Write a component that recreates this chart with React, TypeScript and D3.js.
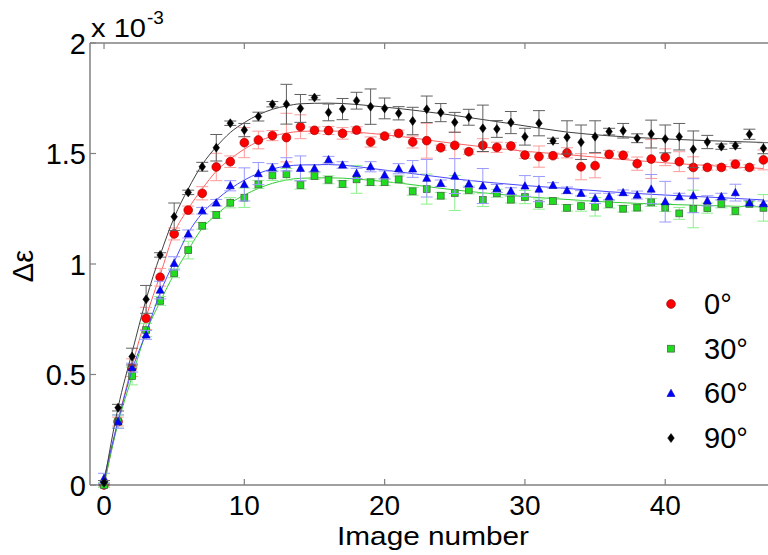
import React from "react";
import * as d3 from "d3";

const IMAGES = [0,1,2,3,4,5,6,7,8,9,10,11,12,13,14,15,16,17,18,19,20,21,22,23,24,25,26,27,28,29,30,31,32,33,34,35,36,37,38,39,40,41,42,43,44,45,46,47];

const RED = [0,0.287,0.531,0.754,0.94,1.136,1.244,1.32,1.439,1.463,1.549,1.561,1.581,1.572,1.621,1.605,1.604,1.591,1.606,1.552,1.579,1.591,1.552,1.558,1.526,1.537,1.508,1.537,1.528,1.534,1.493,1.486,1.49,1.503,1.44,1.445,1.496,1.492,1.454,1.475,1.483,1.463,1.437,1.437,1.437,1.452,1.437,1.471];
const RED_ERR = [0.01,0.02,0.04,0.05,0.04,0.027,0.018,0.03,0.062,0.026,0.068,0.04,0.023,0.11,0.054,0.015,0.018,0.026,0.015,0.023,0.012,0.015,0.027,0.079,0.012,0.06,0.012,0.03,0.023,0.015,0.015,0.048,0.012,0.023,0.059,0.055,0.018,0.015,0.03,0.088,0.038,0.045,0.048,0.012,0.012,0.018,0.012,0.045];

const GREEN = [0,0.287,0.493,0.701,0.833,0.958,1.063,1.173,1.222,1.277,1.3,1.36,1.401,1.406,1.357,1.398,1.381,1.362,1.383,1.37,1.37,1.383,1.329,1.339,1.309,1.321,1.335,1.29,1.32,1.291,1.303,1.271,1.285,1.254,1.262,1.259,1.271,1.25,1.255,1.279,1.255,1.229,1.249,1.253,1.272,1.24,1.272,1.254];
const GREEN_ERR = [0.01,0.03,0.04,0.03,0.02,0.02,0.04,0.015,0.015,0.023,0.044,0.018,0.023,0.026,0.018,0.015,0.018,0.015,0.063,0.015,0.015,0.015,0.018,0.068,0.015,0.079,0.018,0.03,0.018,0.015,0.03,0.023,0.015,0.015,0.023,0.042,0.018,0.015,0.015,0.018,0.018,0.027,0.085,0.023,0.018,0.018,0.012,0.06];

const BLUE = [0.03,0.287,0.531,0.679,0.882,1.003,1.136,1.241,1.277,1.354,1.36,1.409,1.436,1.451,1.433,1.433,1.472,1.448,1.41,1.44,1.403,1.431,1.43,1.388,1.365,1.398,1.362,1.353,1.342,1.33,1.353,1.339,1.356,1.333,1.32,1.297,1.305,1.323,1.312,1.339,1.282,1.305,1.309,1.286,1.305,1.323,1.276,1.273];
const BLUE_ERR = [0.023,0.03,0.02,0.02,0.04,0.03,0.018,0.015,0.015,0.023,0.075,0.05,0.018,0.03,0.056,0.015,0.015,0.015,0.023,0.023,0.018,0.023,0.038,0.085,0.015,0.079,0.015,0.079,0.018,0.015,0.047,0.057,0.012,0.015,0.012,0.023,0.015,0.012,0.018,0.066,0.092,0.015,0.077,0.023,0.015,0.038,0.012,0.012];

const BLACK = [0.01,0.35,0.581,0.84,1.041,1.214,1.324,1.44,1.526,1.637,1.606,1.667,1.723,1.723,1.704,1.753,1.686,1.701,1.739,1.712,1.704,1.682,1.647,1.7,1.685,1.641,1.664,1.614,1.611,1.64,1.576,1.637,1.557,1.573,1.551,1.576,1.599,1.603,1.569,1.588,1.566,1.576,1.519,1.552,1.531,1.535,1.587,1.524];
const BLACK_ERR = [0.01,0.015,0.038,0.063,0.01,0.062,0.01,0.02,0.06,0.01,0.03,0.02,0.012,0.09,0.063,0.01,0.038,0.048,0.038,0.08,0.047,0.03,0.062,0.06,0.041,0.045,0.036,0.105,0.038,0.05,0.038,0.057,0.012,0.075,0.078,0.072,0.015,0.033,0.02,0.063,0.063,0.06,0.083,0.03,0.012,0.012,0.023,0.025];

const FIT_X = [0,1,2,3,4,5,6,7,8,9,10,11,12,13,14,16,20,25,30,33,36,40,44,47];
const RED_FIT = [0,0.29,0.54,0.76,0.95,1.14,1.25,1.34,1.42,1.475,1.52,1.555,1.578,1.592,1.6,1.602,1.585,1.545,1.51,1.495,1.478,1.458,1.442,1.432];
const GREEN_FIT = [0,0.28,0.49,0.69,0.83,0.955,1.063,1.162,1.222,1.275,1.312,1.342,1.365,1.38,1.388,1.39,1.373,1.335,1.305,1.292,1.28,1.27,1.263,1.258];
const BLUE_FIT = [0.03,0.29,0.52,0.69,0.87,1.01,1.14,1.23,1.29,1.34,1.38,1.41,1.43,1.443,1.448,1.45,1.425,1.385,1.355,1.342,1.327,1.312,1.3,1.29];
const BLACK_FIT = [0.01,0.35,0.6,0.84,1.04,1.21,1.34,1.45,1.53,1.595,1.64,1.675,1.7,1.715,1.725,1.728,1.71,1.672,1.625,1.597,1.58,1.566,1.556,1.55];

const X_TICKS = [0, 10, 20, 30, 40];
const Y_TICKS = [0, 0.5, 1, 1.5, 2];
const Y_TICK_LABELS = ["0", "0.5", "1", "1.5", "2"];
const LEGEND_LABELS = ["0°", "30°", "60°", "90°"];

const FONT = "'Liberation Sans', Arial, Helvetica, sans-serif";

type Series = {
  label: string;
  values: number[];
  errs: number[];
  fit: number[];
  marker: string;
  fill: string;
  stroke: string;
  errColor: string;
  lineColor: string;
};

const SERIES: Series[] = [
  { label: LEGEND_LABELS[0], values: RED, errs: RED_ERR, fit: RED_FIT, marker: "circle", fill: "#ff0000", stroke: "#8a0000", errColor: "#ff9a9a", lineColor: "#ff6060" },
  { label: LEGEND_LABELS[1], values: GREEN, errs: GREEN_ERR, fit: GREEN_FIT, marker: "square", fill: "#1fdc1f", stroke: "#4a6a4a", errColor: "#8cf08c", lineColor: "#33cc33" },
  { label: LEGEND_LABELS[2], values: BLUE, errs: BLUE_ERR, fit: BLUE_FIT, marker: "triangle", fill: "#0000ff", stroke: "#0000b0", errColor: "#9a9aff", lineColor: "#4848ff" },
  { label: LEGEND_LABELS[3], values: BLACK, errs: BLACK_ERR, fit: BLACK_FIT, marker: "diamond", fill: "#000000", stroke: "#000000", errColor: "#606060", lineColor: "#404040" },
];

function Marker({ kind, x, y, fill, stroke }: { kind: string; x: number; y: number; fill: string; stroke: string }) {
  if (kind === "circle") return <circle cx={x} cy={y} r={4.4} fill={fill} stroke={stroke} strokeWidth={0.6} />;
  if (kind === "square") return <rect x={x - 3.4} y={y - 3.4} width={6.8} height={6.8} fill={fill} stroke={stroke} strokeWidth={0.8} />;
  if (kind === "triangle")
    return <path d={`M${x},${y - 4.2} L${x + 4},${y + 3.1} L${x - 4},${y + 3.1} Z`} fill={fill} stroke={stroke} strokeWidth={0.6} />;
  return <path d={`M${x},${y - 4.5} L${x + 3.3},${y} L${x},${y + 4.5} L${x - 3.3},${y} Z`} fill={fill} stroke={stroke} strokeWidth={0.5} />;
}

export default function App() {
  const W = 768, H = 555;
  const left = 90, top = 43, bottom = 485;
  const x = d3.scaleLinear().domain([-1, 50]).range([left, left + 14.03 * 51]);
  const y = d3.scaleLinear().domain([0, 2]).range([bottom, top]);
  const right = x(50);
  const axisColor = "#808080";
  const tickLen = 6;
  const capHalf = 6;

  return (
    <div style={{ position: "fixed", left: 0, top: 0 }}>
      <svg width={W} height={H} style={{ display: "block", background: "#fff" }}>
        <defs>
          <clipPath id="plotClip">
            <rect x={left} y={0} width={right - left} height={bottom + 10} />
          </clipPath>
        </defs>
        <line x1={left} x2={right} y1={top} y2={top} stroke={axisColor} strokeWidth={1.5} />
        <line x1={left} x2={right} y1={bottom} y2={bottom} stroke={axisColor} strokeWidth={1.5} />
        <line x1={left} x2={left} y1={top} y2={bottom} stroke={axisColor} strokeWidth={1.5} />
        {X_TICKS.map((t) => (
          <g key={"xt" + t}>
            <line x1={x(t)} x2={x(t)} y1={bottom} y2={bottom - tickLen} stroke={axisColor} strokeWidth={1.2} />
            <line x1={x(t)} x2={x(t)} y1={top} y2={top + tickLen} stroke={axisColor} strokeWidth={1.2} />
            <text x={x(t)} y={515} textAnchor="middle" fontFamily={FONT} fontSize={28} fill="#000">
              {t}
            </text>
          </g>
        ))}
        {Y_TICKS.map((t, i) => (
          <g key={"yt" + t}>
            <line x1={left} x2={left + tickLen} y1={y(t)} y2={y(t)} stroke={axisColor} strokeWidth={1.2} />
            <text x={86} y={y(t) + 10.5} textAnchor="end" fontFamily={FONT} fontSize={29} fill="#000">
              {Y_TICK_LABELS[i]}
            </text>
          </g>
        ))}
        <text x={91} y={37} fontFamily={FONT} fontSize={26} fill="#000" textLength={55} lengthAdjust="spacingAndGlyphs">
          x 10
        </text>
        <text x={147} y={24} fontFamily={FONT} fontSize={19} fill="#000">
          -3
        </text>
        <text x={433} y={545} textAnchor="middle" fontFamily={FONT} fontSize={26} fill="#000" textLength={192} lengthAdjust="spacingAndGlyphs">
          Image number
        </text>
        <text transform="translate(33,266) rotate(-90)" textAnchor="middle" fontFamily={FONT} fontSize={29} fill="#000">
          Δε
        </text>

        <g clipPath="url(#plotClip)">
          {SERIES.map((s) => {
            const fitLine = d3
              .line<number>()
              .x((_, i) => x(FIT_X[i]))
              .y((d) => y(d))
              .curve(d3.curveMonotoneX);
            return (
              <g key={s.label}>
                <path d={fitLine(s.fit) || ""} fill="none" stroke={s.lineColor} strokeWidth={1} />
                {s.values.map((v, i) => {
                  const cx = x(IMAGES[i]);
                  const y1 = y(v + s.errs[i]);
                  const y2 = y(v - s.errs[i]);
                  return (
                    <g key={i} stroke={s.errColor} strokeWidth={1}>
                      <line x1={cx} x2={cx} y1={y1} y2={y2} />
                      <line x1={cx - capHalf} x2={cx + capHalf} y1={y1} y2={y1} />
                      <line x1={cx - capHalf} x2={cx + capHalf} y1={y2} y2={y2} />
                    </g>
                  );
                })}
                {s.values.map((v, i) => (
                  <Marker key={"m" + i} kind={s.marker} x={x(IMAGES[i])} y={y(v)} fill={s.fill} stroke={s.stroke} />
                ))}
              </g>
            );
          })}
        </g>

        {SERIES.map((s, i) => {
          const ly = 304 + i * 44.7;
          return (
            <g key={"lg" + i}>
              <Marker kind={s.marker} x={671} y={ly} fill={s.fill} stroke={s.stroke} />
              <text x={704} y={ly + 10} fontFamily={FONT} fontSize={29} fill="#000">
                {s.label}
              </text>
            </g>
          );
        })}
      </svg>
    </div>
  );
}
